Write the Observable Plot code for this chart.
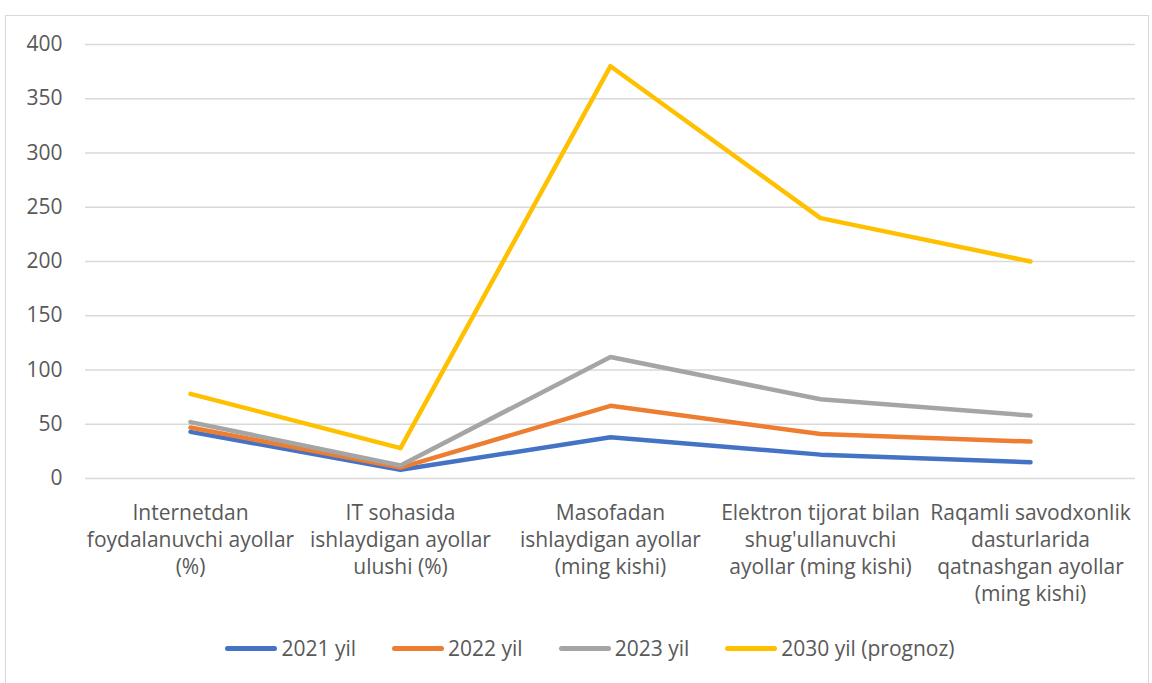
<!DOCTYPE html>
<html>
<head>
<meta charset="utf-8">
<script src="https://cdn.jsdelivr.net/npm/d3@7"></script>
<script src="https://cdn.jsdelivr.net/npm/@observablehq/plot@0.6"></script>
<style>
  html, body { margin: 0; padding: 0; background: #fff; }
  body { width: 1152px; height: 683px; overflow: hidden; position: relative; font-family: "Open Sans", Lato, sans-serif; }
  #frame { position: absolute; left: 5px; top: 15px; width: 1144px; height: 700px; border: 1px solid #d9d9d9; box-sizing: border-box; }
  #chart { position: absolute; left: 0; top: 0; }
  #legend { position: absolute; left: 0; top: 634px; width: 1152px; display: flex; justify-content: center; gap: 36px; padding-left: 28px; box-sizing: border-box; font-size: 21px; color: #595959; }
  .item { display: flex; align-items: center; }
  .sw { width: 52px; height: 5px; border-radius: 3px; margin-right: 4px; }
</style>
</head>
<body>
<div id="frame"></div>
<div id="chart"></div>
<div id="legend"></div>
<script>
const categories = [
  "Internetdan foydalanuvchi ayollar (%)",
  "IT sohasida ishlaydigan ayollar ulushi (%)",
  "Masofadan ishlaydigan ayollar (ming kishi)",
  "Elektron tijorat bilan shug'ullanuvchi ayollar (ming kishi)",
  "Raqamli savodxonlik dasturlarida qatnashgan ayollar (ming kishi)"
];
const tickLabels = [
  "Internetdan\nfoydalanuvchi ayollar\n(%)",
  "IT sohasida\nishlaydigan ayollar\nulushi (%)",
  "Masofadan\nishlaydigan ayollar\n(ming kishi)",
  "Elektron tijorat bilan\nshug'ullanuvchi\nayollar (ming kishi)",
  "Raqamli savodxonlik\ndasturlarida\nqatnashgan ayollar\n(ming kishi)"
];
const seriesNames = ["2021 yil", "2022 yil", "2023 yil", "2030 yil (prognoz)"];
const values2021 = [43, 8, 38, 22, 15];
const values2022 = [47, 10, 67, 41, 34];
const values2023 = [52, 12, 112, 73, 58];
const values2030 = [78, 28, 380, 240, 200];
const yTicks = [0, 50, 100, 150, 200, 250, 300, 350, 400];
const colors = ["#4472C4", "#ED7D31", "#A5A5A5", "#FFC000"];

const allValues = [values2021, values2022, values2023, values2030];
const data = [];
seriesNames.forEach((s, si) => {
  categories.forEach((c, ci) => data.push({series: s, category: c, value: allValues[si][ci]}));
});
const labelOf = new Map(categories.map((c, i) => [c, tickLabels[i]]));

const chart = Plot.plot({
  width: 1152,
  height: 620,
  marginLeft: 85,
  marginRight: 17,
  marginTop: 44,
  marginBottom: 142,
  style: {fontFamily: "'Open Sans', Lato, sans-serif", fontSize: "21px", color: "#595959", background: "transparent"},
  x: {type: "point", domain: categories, padding: 0.5, label: null},
  y: {domain: [0, 400], label: null},
  color: {domain: seriesNames, range: colors},
  marks: [
    Plot.gridY(yTicks, {stroke: "#d9d9d9", strokeOpacity: 1, strokeWidth: 1.5}),
    Plot.axisY(yTicks, {tickSize: 0, tickPadding: 23, fontSize: 21, fill: "#595959", label: null}),
    Plot.axisX({tickSize: 0, tickPadding: 22, fontSize: 21, lineHeight: 1.29, fill: "#595959", tickFormat: d => labelOf.get(d), label: null}),
    Plot.line(data, {x: "category", y: "value", z: "series", stroke: "series", strokeWidth: 4.5, strokeLinecap: "round", strokeLinejoin: "round"})
  ]
});
document.getElementById("chart").appendChild(chart);

const legend = document.getElementById("legend");
seriesNames.forEach((s, i) => {
  const item = document.createElement("div");
  item.className = "item";
  const sw = document.createElement("div");
  sw.className = "sw";
  sw.style.background = colors[i];
  const t = document.createElement("span");
  t.textContent = s;
  item.appendChild(sw);
  item.appendChild(t);
  legend.appendChild(item);
});
</script>
</body>
</html>
